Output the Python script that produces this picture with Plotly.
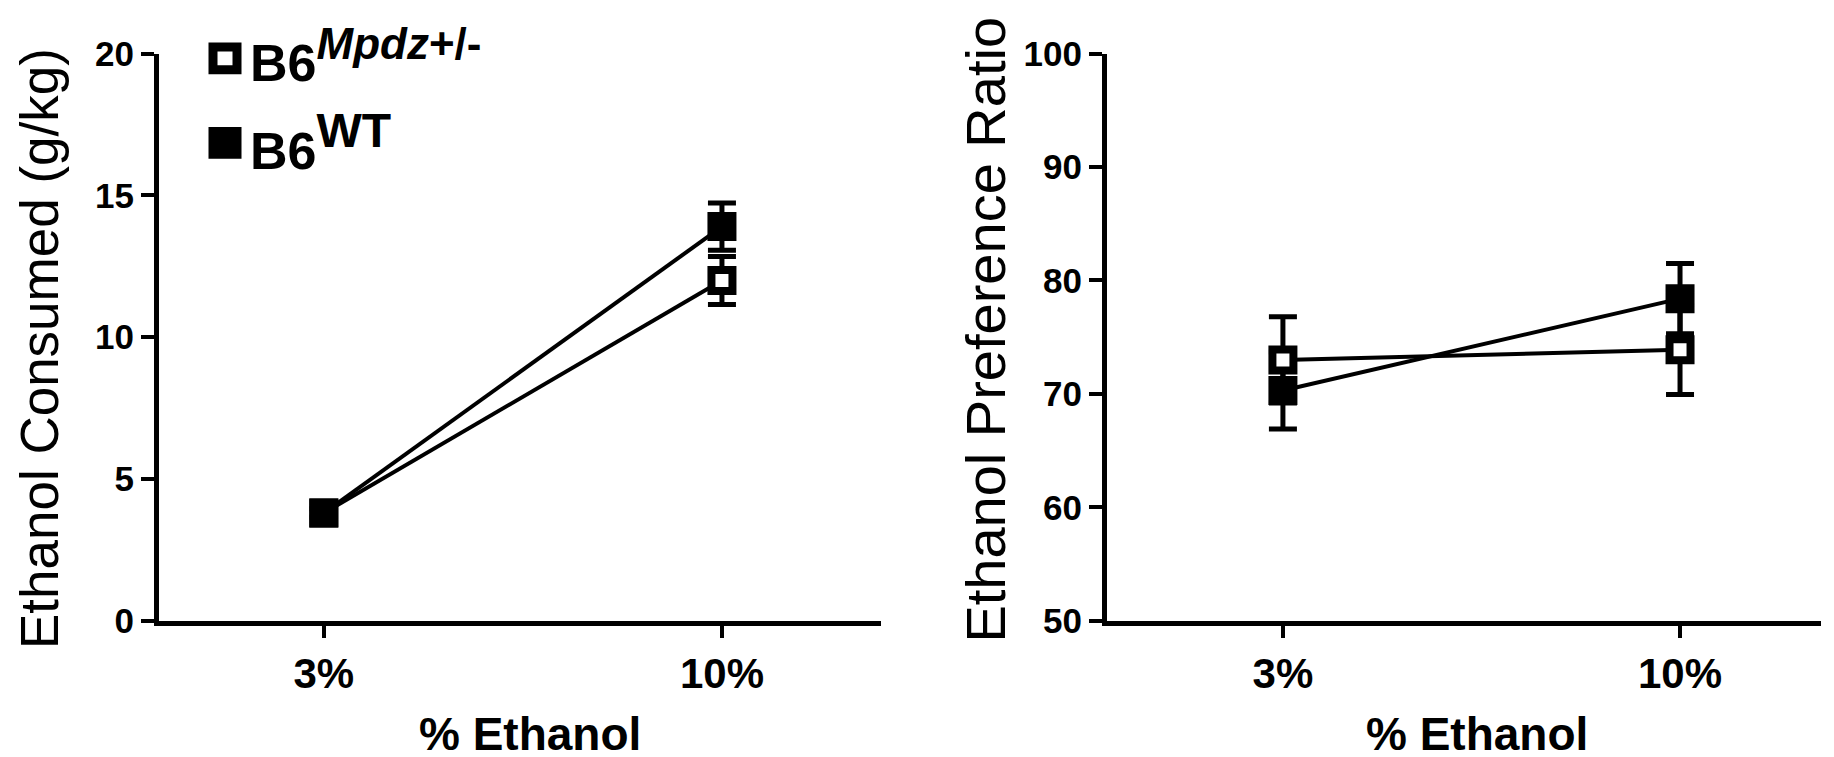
import plotly.graph_objects as go

# ---------------- data ----------------
categories = ["3%", "10%"]
cat_pos = [0, 1]

consumed_mpdz = [3.8, 12.0]
consumed_mpdz_sem = [0.15, 0.85]
consumed_wt = [3.8, 13.9]
consumed_wt_sem = [0.15, 0.83]

pref_mpdz = [73.0, 73.9]
pref_mpdz_sem = [3.8, 3.95]
pref_wt = [70.3, 78.4]
pref_wt_sem = [3.4, 3.1]

legend_base = ["B6", "B6"]
legend_sup = ["<i>Mpdz</i>+/-", "WT"]

# ---------------- layout helpers ----------------
W, H = 1834, 757
def px(x):
    return x / W
def py(y):
    return 1 - y / H

FONT = "Liberation Sans, Arial, sans-serif"

fig = go.Figure()

def add_series(xa, ya, y, sem, filled, name):
    fig.add_trace(go.Scatter(
        x=cat_pos, y=y, xaxis=xa, yaxis=ya, name=name, showlegend=False,
        mode="lines+markers",
        line=dict(color="black", width=4),
        marker=dict(symbol="square", size=21,
                    color="black" if filled else "white",
                    line=dict(color="black", width=8)),
        error_y=dict(type="data", array=sem, visible=True,
                     color="black", thickness=5, width=14),
        cliponaxis=False,
    ))

add_series("x", "y", consumed_mpdz, consumed_mpdz_sem, False, "Mpdz")
add_series("x", "y", consumed_wt, consumed_wt_sem, True, "WT")
add_series("x2", "y2", pref_wt, pref_wt_sem, True, "WT")
add_series("x2", "y2", pref_mpdz, pref_mpdz_sem, False, "Mpdz")

axis_common = dict(showline=True, linewidth=5, linecolor="black",
                   ticks="outside", tickwidth=4, tickcolor="black",
                   showgrid=False, zeroline=False, mirror=False)

xa = dict(axis_common, tickvals=cat_pos, ticktext=categories, ticklen=12,
          tickfont=dict(family=FONT, size=42, color="black", weight="bold"))
ya = dict(axis_common, ticklen=13, tickformat="d",
          tickfont=dict(family=FONT, size=35, color="black", weight="bold"))

TOP, BOT = 27, 625
fig.update_layout(
    width=W, height=H,
    margin=dict(l=0, r=0, t=0, b=0),
    paper_bgcolor="white", plot_bgcolor="white",
    showlegend=False,
    xaxis=dict(xa, domain=[px(151), px(873)], anchor="y", range=[-0.414, 1.3995]),
    yaxis=dict(ya, domain=[py(BOT), py(TOP)], range=[0, 20], anchor="x",
               tickvals=[0, 5, 10, 15, 20]),
    xaxis2=dict(xa, domain=[px(1099), px(1813)], anchor="y2", range=[-0.443, 1.355]),
    yaxis2=dict(ya, domain=[py(BOT), py(TOP)], range=[50, 100], anchor="x2",
                tickvals=[50, 60, 70, 80, 90, 100]),
)

ann = []
# axis titles
for cx in (522, 1469):
    ann.append(dict(text="<b>% Ethanol</b>", x=px(cx), y=py(744), xref="paper", yref="paper",
                    xanchor="center", yanchor="middle", showarrow=False,
                    font=dict(family=FONT, size=46, color="black")))
ann.append(dict(text="Ethanol Consumed (g/kg)", x=0, y=py(338), xref="paper", yref="paper",
                xanchor="left", yanchor="middle", showarrow=False, textangle=-90,
                font=dict(family=FONT, size=53, color="black")))
ann.append(dict(text="Ethanol Preference Ratio", x=px(978), y=py(318), xref="paper", yref="paper",
                xanchor="center", yanchor="middle", showarrow=False, textangle=-90,
                font=dict(family=FONT, size=56, color="black")))

# legend
legend_y = [32, 121]
legend_text_y = [29, 120]
legend_sup_size = [44, 48]
legend_fill = ["white", "black"]
shapes = []
for base, sup, ly, ty, ss, fc in zip(legend_base, legend_sup, legend_y, legend_text_y,
                                     legend_sup_size, legend_fill):
    shapes.append(dict(type="rect", xref="paper", yref="paper",
                       x0=px(217 - 12), x1=px(217 + 12), y0=py(ly + 12), y1=py(ly - 12),
                       line=dict(color="black", width=9), fillcolor=fc))
    txt = ("<b>" + base + "<sup><span style='font-size:%dpx'>" % ss + sup +
           "</span></sup></b>")
    ann.append(dict(text=txt, x=px(240), y=py(ty), xref="paper", yref="paper",
                    xanchor="left", yanchor="middle", showarrow=False,
                    font=dict(family=FONT, size=52, color="black")))

fig.update_layout(annotations=ann, shapes=shapes)
fig.write_html("out.html")
